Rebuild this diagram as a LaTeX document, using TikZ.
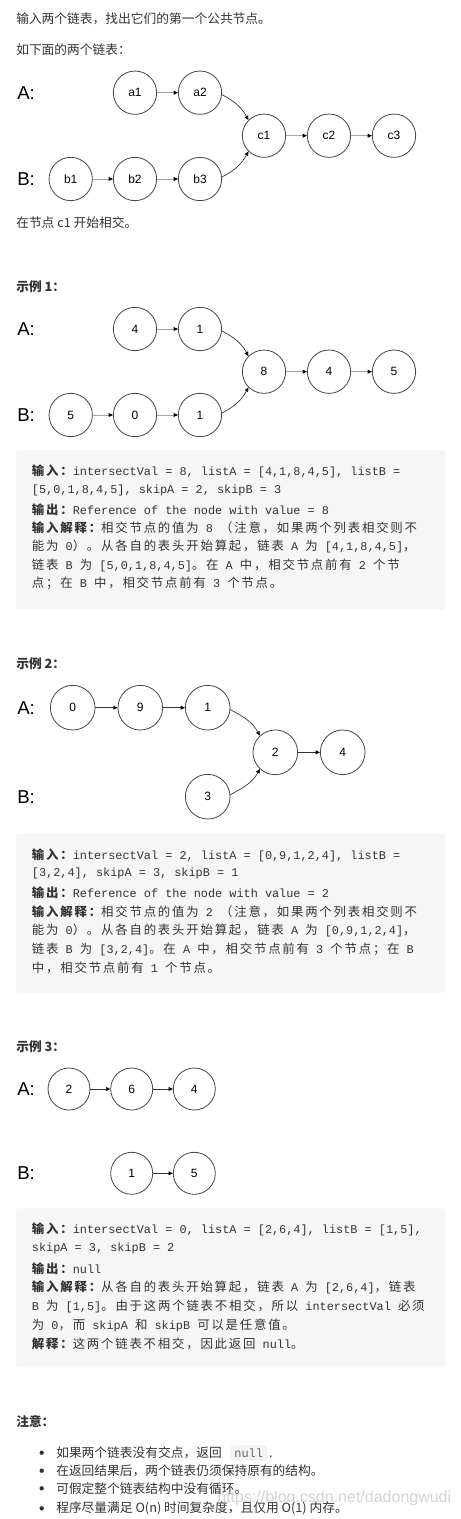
\documentclass[tikz,border=0pt]{standalone}
\usepackage{fontspec}
\setmainfont{Noto Sans CJK SC}
\newfontfamily\cjkbox[LetterSpace=14.5]{Noto Sans CJK SC}
\newfontfamily\monofnt{Liberation Mono}
\newfontfamily\arialfnt{Liberation Sans}
\usetikzlibrary{arrows.meta}
\newcommand\codetxt[1]{{\monofnt\fontsize{8.9pt}{11pt}\selectfont #1}}
\definecolor{txt}{RGB}{51,51,51}
\definecolor{boxbg}{RGB}{246,246,246}
\definecolor{circ}{RGB}{70,70,70}
\definecolor{lgray}{RGB}{165,165,165}
\definecolor{wm}{RGB}{212,212,212}
\definecolor{codebg}{RGB}{243,243,243}
\tikzset{
  lnode/.style={circle, draw=circ, line width=0.6pt, minimum size=32.5pt, inner sep=0pt,
    font=\arialfnt\fontsize{9pt}{10pt}\selectfont, text=black},
  lnodeb/.style={lnode, minimum size=33.5pt},
  lnodec/.style={lnode, minimum size=31.5pt},
  lab/.style={anchor=west, inner sep=0pt, font=\arialfnt\fontsize{14pt}{16pt}\selectfont, text=black},
  body/.style={anchor=west, inner sep=0pt, font=\fontsize{9.55pt}{11pt}\selectfont, text=txt},
  head/.style={anchor=west, inner sep=0pt, font=\bfseries\fontsize{9.55pt}{11pt}\selectfont, text=txt},
  bline/.style={anchor=west, inner sep=0pt, font=\cjkbox\fontsize{9.3pt}{11pt}\selectfont, text=txt},
  arr/.style={-{Triangle[length=3.2pt,width=2.8pt,color=black]}, line width=0.5pt, draw=black!80},
  garr/.style={arr, draw=lgray},
  gbox/.style={fill=boxbg, rounded corners=2pt},
}
\begin{document}
\begin{tikzpicture}[x=0.75pt,y=-0.75pt]
\fill[white] (0,0) rectangle (460,1519);

% ---------- intro ----------
\node[body] (t1) at (16,19) {输入两个链表，找出它们的第一个公共节点。};
\node[body] (t2) at (16,50) {如下面的两个链表：};

\node[lab] (LA0) at (17,92.7) {A:};
\node[lab] (LB0) at (17,179) {B:};
\node[lnode] (a1) at (135,92.7) {a1};
\node[lnode] (a2) at (200,92.7) {a2};
\node[lnode] (c1) at (264,135.7) {c1};
\node[lnode] (c2) at (329,135.7) {c2};
\node[lnode] (c3) at (394,135.7) {c3};
\node[lnode] (b1) at (70.7,179) {b1};
\node[lnode] (b2) at (135,179) {b2};
\node[lnode] (b3) at (200,179) {b3};
\draw[garr] (a1) -- (a2);
\draw[garr] (c1) -- (c2);
\draw[garr] (c2) -- (c3);
\draw[garr] (b1) -- (b2);
\draw[garr] (b2) -- (b3);
\draw[arr] (a2.-5) to[out=-28,in=118] (c1.135);
\draw[arr] (b3.5) to[out=28,in=-118] (c1.-135);

\node[body] (t3) at (16,222.7) {在节点 c1 开始相交。};

% ---------- example 1 ----------
\node[head] (h1) at (16,286.7) {示例 1：};
\node[lab] (LA1) at (17,329) {A:};
\node[lab] (LB1) at (17,415) {B:};
\node[lnode] (e1a1) at (135,329) {4};
\node[lnode] (e1a2) at (200,329) {1};
\node[lnode] (e1c1) at (264,371.7) {8};
\node[lnode] (e1c2) at (329,371.7) {4};
\node[lnode] (e1c3) at (394,371.7) {5};
\node[lnode] (e1b1) at (70.7,415) {5};
\node[lnode] (e1b2) at (135,415) {0};
\node[lnode] (e1b3) at (200,415) {1};
\draw[garr] (e1a1) -- (e1a2);
\draw[garr] (e1c1) -- (e1c2);
\draw[garr] (e1c2) -- (e1c3);
\draw[garr] (e1b1) -- (e1b2);
\draw[garr] (e1b2) -- (e1b3);
\draw[arr] (e1a2.-5) to[out=-28,in=118] (e1c1.135);
\draw[arr] (e1b3.5) to[out=28,in=-118] (e1c1.-135);

\fill[gbox] (16,450) rectangle (445,609.3);
\node[bline] (x1l1) at (31.7,471.7) {{\bfseries 输入：}\codetxt{intersectVal = 8, listA = [4,1,8,4,5], listB =}};
\node[bline] (x1l2) at (31.7,490.7) {\codetxt{[5,0,1,8,4,5], skipA = 2, skipB = 3}};
\node[bline] (x1l3) at (31.7,510) {{\bfseries 输出：}\codetxt{Reference of the node with value = 8}};
\node[bline] (x1l4) at (31.7,528.3) {{\bfseries 输入解释：}相交节点的值为\codetxt{\ 8\ }（注意，如果两个列表相交则不};
\node[bline] (x1l5) at (31.7,546.7) {能为\codetxt{\ 0}）。从各自的表头开始算起，链表\codetxt{\ A\ }为\codetxt{\ [4,1,8,4,5]}，};
\node[bline] (x1l6) at (31.7,565) {链表\codetxt{\ B\ }为\codetxt{\ [5,0,1,8,4,5]}。在\codetxt{\ A\ }中，相交节点前有\codetxt{\ 2\ }个节};
\node[bline] (x1l7) at (31.7,583.3) {点；在\codetxt{\ B\ }中，相交节点前有\codetxt{\ 3\ }个节点。};

% ---------- example 2 ----------
\node[head] (h2) at (16,664) {示例 2：};
\node[lab] (LA2) at (17,707.7) {A:};
\node[lab] (LB2) at (17,796.7) {B:};
\node[lnodeb] (e2a1) at (72.7,707.7) {0};
\node[lnodeb] (e2a2) at (140.3,707.7) {9};
\node[lnodeb] (e2a3) at (207.7,707.7) {1};
\node[lnodeb] (e2c1) at (275.3,752.3) {2};
\node[lnodeb] (e2c2) at (342.7,752.3) {4};
\node[lnodeb] (e2b1) at (207.7,796.7) {3};
\draw[arr] (e2a1) -- (e2a2);
\draw[arr] (e2a2) -- (e2a3);
\draw[arr] (e2c1) -- (e2c2);
\draw[arr] (e2a3.-5) to[out=-28,in=118] (e2c1.133);
\draw[arr] (e2b1.5) to[out=28,in=-118] (e2c1.-133);

\fill[gbox] (16,833.3) rectangle (445,992.7);
\node[bline] (x2l1) at (31.7,855) {{\bfseries 输入：}\codetxt{intersectVal = 2, listA = [0,9,1,2,4], listB =}};
\node[bline] (x2l2) at (31.7,873.3) {\codetxt{[3,2,4], skipA = 3, skipB = 1}};
\node[bline] (x2l3) at (31.7,892.7) {{\bfseries 输出：}\codetxt{Reference of the node with value = 2}};
\node[bline] (x2l4) at (31.7,911.7) {{\bfseries 输入解释：}相交节点的值为\codetxt{\ 2\ }（注意，如果两个列表相交则不};
\node[bline] (x2l5) at (31.7,930) {能为\codetxt{\ 0}）。从各自的表头开始算起，链表\codetxt{\ A\ }为\codetxt{\ [0,9,1,2,4]}，};
\node[bline] (x2l6) at (31.7,949.3) {链表\codetxt{\ B\ }为\codetxt{\ [3,2,4]}。在\codetxt{\ A\ }中，相交节点前有\codetxt{\ 3\ }个节点；在\codetxt{\ B}};
\node[bline] (x2l7) at (31.7,967.7) {中，相交节点前有\codetxt{\ 1\ }个节点。};

% ---------- example 3 ----------
\node[head] (h3) at (16,1046.7) {示例 3：};
\node[lab] (LA3) at (17,1089) {A:};
\node[lab] (LB3) at (17,1173.3) {B:};
\node[lnodec] (e3a1) at (69,1089) {2};
\node[lnodec] (e3a2) at (131.7,1089) {6};
\node[lnodec] (e3a3) at (194.3,1089) {4};
\node[lnodec] (e3b1) at (131.7,1173.3) {1};
\node[lnodec] (e3b2) at (194.3,1173.3) {5};
\draw[arr] (e3a1) -- (e3a2);
\draw[arr] (e3a2) -- (e3a3);
\draw[arr] (e3b1) -- (e3b2);

\fill[gbox] (16,1208.3) rectangle (445,1367.3);
\node[bline] (x3l1) at (31.7,1229.3) {{\bfseries 输入：}\codetxt{intersectVal = 0, listA = [2,6,4], listB = [1,5],}};
\node[bline] (x3l2) at (31.7,1248.3) {\codetxt{skipA = 3, skipB = 2}};
\node[bline] (x3l3) at (31.7,1268.3) {{\bfseries 输出：}\codetxt{null}};
\node[bline] (x3l4) at (31.7,1287.3) {{\bfseries 输入解释：}从各自的表头开始算起，链表\codetxt{\ A\ }为\codetxt{\ [2,6,4]}，链表};
\node[bline] (x3l5) at (31.7,1306) {\codetxt{B\ }为\codetxt{\ [1,5]}。由于这两个链表不相交，所以\codetxt{\ intersectVal\ }必须};
\node[bline] (x3l6) at (31.7,1325) {为\codetxt{\ 0}，而\codetxt{\ skipA\ }和\codetxt{\ skipB\ }可以是任意值。};
\node[bline] (x3l7) at (31.7,1344) {{\bfseries 解释：}这两个链表不相交，因此返回\codetxt{\ null}。};

% ---------- notes ----------
\node[head] (h4) at (16,1421.7) {注意：};
\node[anchor=west, inner sep=0pt, font=\arialfnt\fontsize{12pt}{14pt}\selectfont, text=wm] (wmk) at (217,1498) {https://blog.csdn.net/dadongwudi};
\fill[txt] (41.7,1452.7) circle (2.2);
\fill[txt] (41.7,1470.7) circle (2.2);
\fill[txt] (41.7,1488.3) circle (2.2);
\fill[txt] (41.7,1508.3) circle (2.2);
\node[body] (n1) at (56,1452.7) {如果两个链表没有交点，返回};
\node[anchor=base west, fill=codebg, rounded corners=2pt, inner xsep=3pt, inner ysep=2.5pt,
  font=\monofnt\fontsize{9pt}{11pt}\selectfont, text=black!60] (n1c) at ([xshift=6]n1.base east) {null};
\node[body, anchor=base west] (n1d) at ([xshift=1]n1c.base east) {.};
\node[body] (n2) at (56,1470.7) {在返回结果后，两个链表仍须保持原有的结构。};
\node[body] (n3) at (56,1488.3) {可假定整个链表结构中没有循环。};
\node[body] (n4) at (56,1508.3) {程序尽量满足 O(n) 时间复杂度，且仅用 O(1) 内存。};
\end{tikzpicture}
\end{document}
